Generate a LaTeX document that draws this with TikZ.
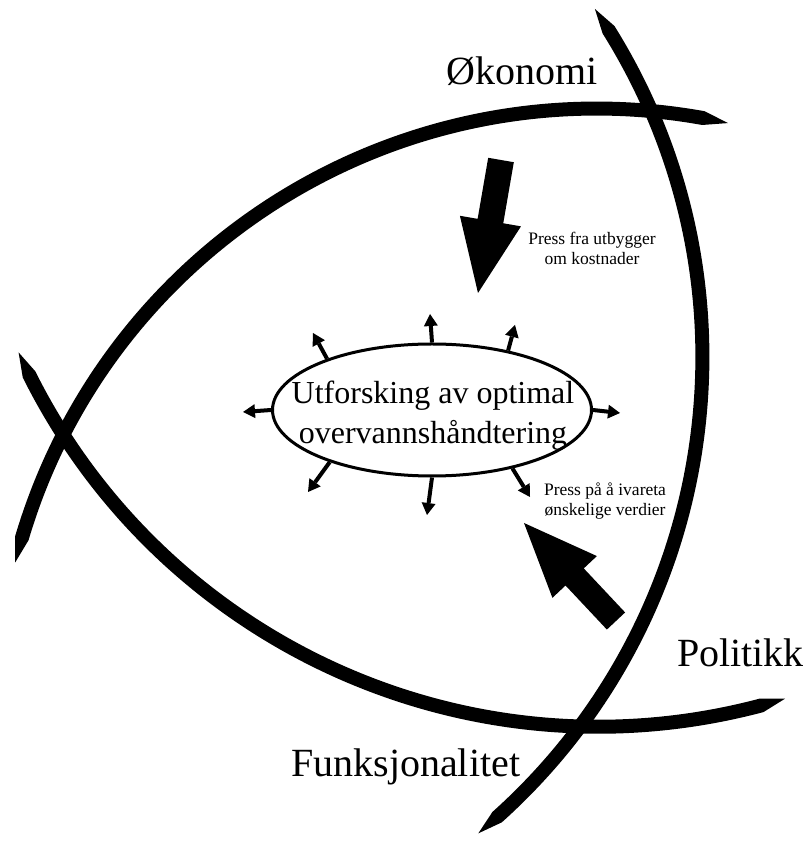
\documentclass[tikz,border=0pt]{standalone}
\usepackage{fontspec}
\setmainfont{Liberation Serif}
\usetikzlibrary{calc,arrows.meta,shapes.geometric}

% A thick circular brush stroke with pointed ends:
% #1 centre, #2 radius, #3 start angle, #4 end angle, #5 taper angle
\newcommand{\brusharc}[5]{%
  \fill[brush] ($(#1)+(#3:#2+7)$) arc[start angle=#3, end angle=#4, radius=#2+7]
    -- ($(#1)+(#4+#5:#2)$)
    -- ($(#1)+(#4:#2-7)$) arc[start angle=#4, end angle=#3, radius=#2-7]
    -- ($(#1)+(#3-#5:#2)$) -- cycle;}

\tikzset{
  brush/.style={fill=black},
  bigfont/.style={font=\fontsize{40}{48}\selectfont, inner sep=0pt},
  notefont/.style={font=\fontsize{17.5}{20}\selectfont, inner sep=0pt, align=center},
  centrefont/.style={font=\fontsize{32}{40}\selectfont, inner sep=0pt, align=center},
  push/.style={line width=4pt, -{Triangle[length=12pt,width=14pt,line width=0pt]}},
  ellbox/.style={draw, ellipse, line width=3pt, minimum width=319pt, minimum height=132pt, inner sep=0pt},
}

\begin{document}
\begin{tikzpicture}[x=1pt,y=1pt]
\fill[white] (0,0) rectangle (807,841);
\useasboundingbox (0,0) rectangle (807,841);

% centres of the three circular strokes
\coordinate (ca) at (597.1,132.4);
\coordinate (cb) at (598.2,750.3);
\coordinate (cc) at (84.4,483.8);

\brusharc{ca}{600}{79.8}{163.5}{2.4}
\brusharc{cb}{636}{206.5}{284.9}{2.2}
\brusharc{cc}{618}{-48.1}{32.0}{2.3}

% domain labels
\node[bigfont, anchor=base west] (oko) at (446,756) {Økonomi};
\node[bigfont, anchor=base west] (pol) at (677,174) {Politikk};
\node[bigfont, anchor=base west] (fun) at (291,64) {Funksjonalitet};

% central ellipse
\node[ellbox] (ell) at (432,431) {};
\node[centrefont] (elltext) at (433,425) {Utforsking av optimal\\overvannshåndtering};

% small outward arrows
\coordinate (p1) at (430,527);
\coordinate (p2) at (515,516);
\coordinate (p3) at (313,508);
\coordinate (p4) at (243,429);
\coordinate (p5) at (620,428);
\coordinate (p6) at (308,349);
\coordinate (p7) at (427,326);
\coordinate (p8) at (530,344);
\draw[push] (ell.90) -- (p1);
\draw[push] (ell.38) -- (p2);
\draw[push] (ell.154) -- (p3);
\draw[push] (ell.180) -- (p4);
\draw[push] (ell.0) -- (p5);
\draw[push] (ell.207) -- (p6);
\draw[push] (ell.270) -- (p7);
\draw[push] (ell.324) -- (p8);

% big pressure arrows (shaft width 26, head 73 long, 62 wide)
\coordinate (a1s) at (501,681);
\coordinate (a1e) at (478,548);
\coordinate (h1) at ($(a1e)!73pt!(a1s)$);
\fill ($(a1s)!13pt!90:(a1e)$) -- ($(h1)!13pt!90:(a1e)$) -- ($(h1)!31pt!90:(a1e)$)
  -- (a1e) -- ($(h1)!31pt!-90:(a1e)$) -- ($(h1)!13pt!-90:(a1e)$)
  -- ($(a1s)!13pt!-90:(a1e)$) -- cycle;

\coordinate (a2s) at (616,220);
\coordinate (a2e) at (524,318);
\coordinate (h2) at ($(a2e)!74pt!(a2s)$);
\fill ($(a2s)!12.5pt!90:(a2e)$) -- ($(h2)!12.5pt!90:(a2e)$) -- ($(h2)!30.5pt!90:(a2e)$)
  -- (a2e) -- ($(h2)!30.5pt!-90:(a2e)$) -- ($(h2)!12.5pt!-90:(a2e)$)
  -- ($(a2s)!12.5pt!-90:(a2e)$) -- cycle;

% notes beside the big arrows
\node[notefont] (n1) at (592,593) {Press fra utbygger\\om kostnader};
\node[notefont] (n2) at (605,340) {Press på å ivareta\\ønskelige verdier};
\end{tikzpicture}
\end{document}
